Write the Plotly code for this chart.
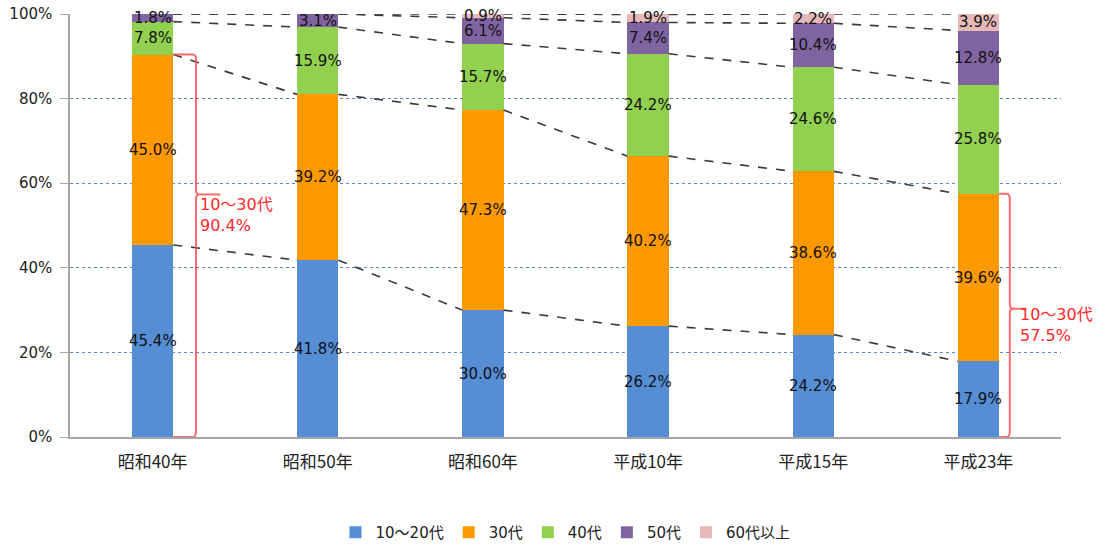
import plotly.graph_objects as go
import numpy as np

# Age composition by survey year (percent)
years = ["昭和40年", "昭和50年", "昭和60年", "平成10年", "平成15年", "平成23年"]
age_10_20 = [45.4, 41.8, 30.0, 26.2, 24.2, 17.9]
age_30 = [45.0, 39.2, 47.3, 40.2, 38.6, 39.6]
age_40 = [7.8, 15.9, 15.7, 24.2, 24.6, 25.8]
age_50 = [1.8, 3.1, 6.1, 7.4, 10.4, 12.8]
age_60_plus = [0.0, 0.0, 0.9, 1.9, 2.2, 3.9]
series_names = ["10～20代", "30代", "40代", "50代", "60代以上"]
bracket_labels = ["10～30代<br>90.4%", "10～30代<br>57.5%"]
y_ticks = [0, 20, 40, 60, 80, 100]

series = [age_10_20, age_30, age_40, age_50, age_60_plus]
colors = ["#558ed5", "#ff9900", "#92d050", "#8064a2", "#e6b9b8"]

FONT = "DejaVu Sans, Noto Sans CJK JP"
CJK = "Noto Sans CJK JP"
BAR_W = 0.25
x = np.arange(len(years))

fig = go.Figure()

for name, vals, col in zip(series_names, series, colors):
    fig.add_trace(go.Bar(
        x=x, y=vals, name=name, width=BAR_W,
        marker=dict(color=col, line=dict(width=0)),
    ))

# Segment value labels at the middle of each segment
cum = np.zeros(len(years))
for vals in series:
    v = np.array(vals)
    for i in range(len(years)):
        if v[i] > 0:
            fig.add_annotation(
                x=x[i], y=cum[i] + v[i] / 2, text=f"{v[i]:.1f}%",
                showarrow=False, xref="x", yref="y",
                font=dict(family=FONT, size=15, color="#111111"),
            )
    cum = cum + v

# Series lines linking segment tops between neighbouring bars
cum = np.zeros(len(years))
for vals in series:
    cum = cum + np.array(vals)
    lx, ly = [], []
    for i in range(len(years) - 1):
        lx += [x[i] + BAR_W / 2, x[i + 1] - BAR_W / 2, None]
        ly += [cum[i], cum[i + 1], None]
    fig.add_trace(go.Scatter(
        x=lx, y=ly, mode="lines", showlegend=False, hoverinfo="skip",
        line=dict(color="#3a3a3a", width=1.6, dash="dash"),
    ))


def brace(idx, xv, xn, top, nub_y, r=0.02, ry=1.2):
    """Right-facing curly brace from 0 up to `top` next to bar `idx`."""
    x0 = x[idx] + BAR_W / 2
    p = (f"M {x0},{top} L {xv - r},{top} Q {xv},{top} {xv},{top - ry} "
         f"L {xv},{nub_y + ry} Q {xv},{nub_y} {xv + r},{nub_y} L {xn},{nub_y} "
         f"M {xv + r},{nub_y} Q {xv},{nub_y} {xv},{nub_y - ry} "
         f"L {xv},{ry} Q {xv},0 {xv - r},0 L {x0},0")
    fig.add_shape(type="path", path=p, xref="x", yref="y",
                  line=dict(color="rgba(255,80,80,0.85)", width=2))


share_first = age_10_20[0] + age_30[0]
share_last = age_10_20[-1] + age_30[-1]
brace(0, 0.263, 0.41, share_first, 57.3)
brace(5, 5.19, 5.29, share_last, 30.3)

fig.add_annotation(x=0.275, y=52.5, xref="x", yref="y", text=bracket_labels[0],
                   showarrow=False, xanchor="left", align="left",
                   font=dict(family=FONT, size=16, color="#ff2828"))
fig.add_annotation(x=5.24, y=26.5, xref="x", yref="y", text=bracket_labels[1],
                   showarrow=False, xanchor="left", align="left",
                   font=dict(family=FONT, size=16, color="#ff2828"))

fig.update_layout(
    barmode="stack",
    width=1110, height=549,
    margin=dict(l=70, r=49, t=14, b=112, autoexpand=False),
    paper_bgcolor="white", plot_bgcolor="white",
    font=dict(family=FONT, size=14, color="#222222"),
    showlegend=True,
    legend=dict(orientation="h", x=0.5, xanchor="center",
                yref="container", y=0.03, yanchor="middle",
                font=dict(family=FONT, size=15, color="#222222"),
                itemwidth=30, traceorder="normal"),
    xaxis=dict(
        range=[-0.5, len(years) - 0.5], tickmode="array", tickvals=x, ticktext=years,
        showgrid=False, zeroline=False, showline=True, linecolor="#a6a6a6", linewidth=1.5,
        ticks="", automargin=False, ticklabelstandoff=9,
        tickfont=dict(family=CJK, size=17, color="#222222"),
    ),
    yaxis=dict(
        range=[0, 100], tickmode="array", tickvals=y_ticks,
        ticktext=[f"{t}%" for t in y_ticks],
        showgrid=True, gridcolor="#5b87c7", griddash="dot", gridwidth=1,
        zeroline=False, showline=True, linecolor="#a6a6a6", linewidth=1.5,
        ticks="outside", ticklen=8, tickcolor="#a6a6a6", automargin=False,
        ticklabelstandoff=5,
        tickfont=dict(family=FONT, size=15, color="#222222"),
    ),
)

fig.write_html("out.html")
